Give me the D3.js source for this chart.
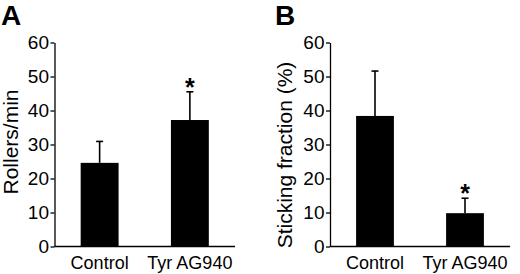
<!DOCTYPE html>
<html><head><meta charset="utf-8">
<script src="https://cdn.jsdelivr.net/npm/d3@7"></script>
<style>body{margin:0;background:#fff}svg{display:block}text{font-family:"Liberation Sans",Arial,Helvetica,sans-serif;fill:#000}</style>
</head><body>
<svg id="c" width="520" height="274"></svg>
<script>
const categories = ["Control", "Tyr AG940"];
const rollersMean = [24.6, 37.2];
const rollersErr = [6.3, 8.3];
const rollersSig = [false, true];
const stickingMean = [38.4, 9.8];
const stickingErr = [13.2, 4.4];
const stickingSig = [false, true];
const yTicks = [0, 10, 20, 30, 40, 50, 60];

const svg = d3.select("#c");
const FONT = "Liberation Sans, Arial, sans-serif";

function panel(opts) {
  const g = svg.append("g");
  const x = d3.scaleBand().domain(categories).range([opts.x0, opts.x1]).paddingInner(0.58).paddingOuter(0.29);
  const y = d3.scaleLinear().domain([0, 60]).range([246.5, 42.5]);
  g.selectAll("rect.bar").data(opts.mean).join("rect")
    .attr("x", (d, i) => x(categories[i]))
    .attr("width", x.bandwidth())
    .attr("y", d => y(d))
    .attr("height", d => y(0) - y(d))
    .attr("fill", "#000");
  g.selectAll("line.err").data(opts.mean).join("line")
    .attr("x1", (d, i) => x(categories[i]) + x.bandwidth() / 2)
    .attr("x2", (d, i) => x(categories[i]) + x.bandwidth() / 2)
    .attr("y1", d => y(d))
    .attr("y2", (d, i) => y(d + opts.err[i]))
    .attr("stroke", "#000").attr("stroke-width", 1.6);
  g.selectAll("line.cap").data(opts.mean).join("line")
    .attr("x1", (d, i) => x(categories[i]) + x.bandwidth() / 2 - 3.5)
    .attr("x2", (d, i) => x(categories[i]) + x.bandwidth() / 2 + 3.5)
    .attr("y1", (d, i) => y(d + opts.err[i]))
    .attr("y2", (d, i) => y(d + opts.err[i]))
    .attr("stroke", "#000").attr("stroke-width", 1.6);
  g.selectAll("text.sig").data(opts.mean.map((d, i) => ({d, i})).filter(o => opts.sig[o.i])).join("text")
    .attr("x", o => x(categories[o.i]) + x.bandwidth() / 2)
    .attr("y", o => y(o.d + opts.err[o.i]) + 4)
    .attr("text-anchor", "middle")
    .attr("font-size", 25).attr("font-weight", "bold")
    .text("*");
  const ya = g.append("g").attr("transform", `translate(${opts.x0},0)`)
    .call(d3.axisLeft(y).tickValues(yTicks).tickSize(4).tickPadding(1.5).tickSizeOuter(0));
  ya.select(".domain").attr("stroke-width", 1.3);
  ya.selectAll(".tick line").attr("stroke-width", 1.3);
  ya.selectAll("text").attr("font-size", 19).attr("font-family", FONT);
  const xa = g.append("g").attr("transform", `translate(0,${y(0)})`)
    .call(d3.axisBottom(x).tickSize(0).tickPadding(9.5).tickSizeOuter(0));
  xa.select(".domain").attr("stroke-width", 1.3).attr("d", `M${opts.x0},0H${opts.x1}`);
  xa.selectAll("text").attr("font-size", 18).attr("font-family", FONT);
  g.append("text")
    .attr("transform", `translate(${opts.labX},${opts.labY}) rotate(-90)`)
    .attr("text-anchor", "middle")
    .attr("font-size", 21)
    .text(opts.ylabel);
  g.append("text").attr("x", opts.letterX).attr("y", 25)
    .attr("font-size", 28).attr("font-weight", "bold").text(opts.letter);
}

panel({x0: 54.5, x1: 235, mean: rollersMean, err: rollersErr, sig: rollersSig,
  ylabel: "Rollers/min", labX: 18, labY: 142, letter: "A", letterX: 1});
panel({x0: 330, x1: 510, mean: stickingMean, err: stickingErr, sig: stickingSig,
  ylabel: "Sticking fraction (%)", labX: 292, labY: 155, letter: "B", letterX: 275});
</script>
</body></html>
